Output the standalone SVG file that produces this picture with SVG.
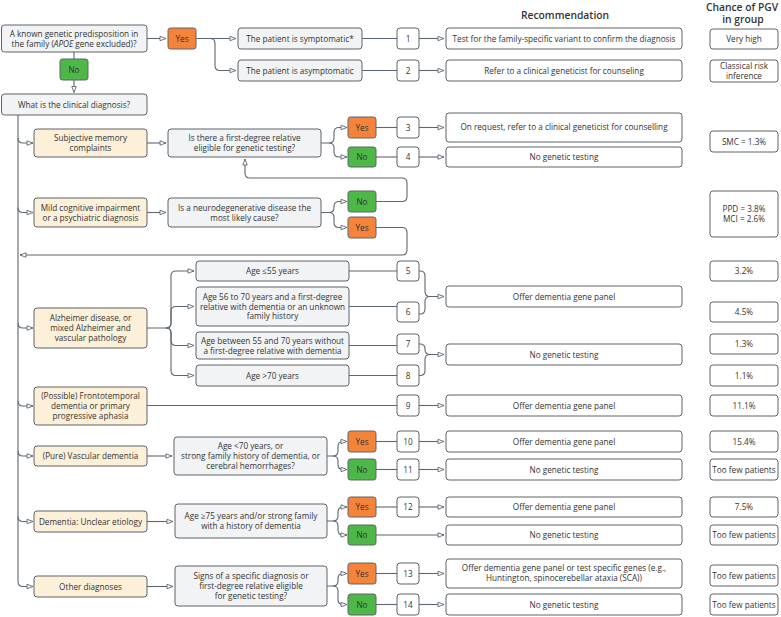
<svg xmlns="http://www.w3.org/2000/svg" width="781" height="617" viewBox="0 0 781 617">
<defs>
<style>
.b{stroke:#5f646b;stroke-width:1}
.q{fill:#f1f3f5}
.y{fill:#fdf0d9}
.w{fill:#fff}
.o{fill:#f5833a}
.g{fill:#4db848}
text{font-family:"Open Sans","DejaVu Sans",sans-serif;font-size:8.2px;fill:#333;text-anchor:middle}
.h{font-size:10.3px;font-weight:600;fill:#333}
.c{fill:none;stroke:#5d6771;stroke-width:1.1}
</style>
<marker id="a" markerWidth="8" markerHeight="6" refX="7" refY="3" orient="auto" markerUnits="userSpaceOnUse">
<path d="M1,0.8 L7,3 L1,5.2 Z" fill="#fff" stroke="#5d6771" stroke-width="0.9"/>
</marker>
</defs>
<rect width="781" height="617" fill="#fff"/>

<g id="headers">
<text class="h" x="565" y="18.5">Recommendation</text>
<text class="h" x="742" y="10.5">Chance of PGV</text>
<text class="h" x="743" y="23">in group</text>
</g>

<g id="connectors" class="c">
<path d="M147,38.5 H166" marker-end="url(#a)"/>
<path d="M196,38.5 H236" marker-end="url(#a)"/>
<path d="M210,38.5 Q215,38.5 215,43.5 V65.5 Q215,70.5 220,70.5 H236" marker-end="url(#a)"/>
<path d="M74,52 V59"/>
<path d="M74,80 V92.5" marker-end="url(#a)"/>
<path d="M362,38.5 H397"/>
<path d="M419,38.5 H444" marker-end="url(#a)"/>
<path d="M362,70.5 H397"/>
<path d="M419,70.5 H444" marker-end="url(#a)"/>

<path d="M18,115 V581.5 Q18,586.5 23,586.5 H33" marker-end="url(#a)"/>
<path d="M18,138 Q18,143 23,143 H33" marker-end="url(#a)"/>
<path d="M18,207.5 Q18,212.5 23,212.5 H33" marker-end="url(#a)"/>
<path d="M18,323 Q18,328 23,328 H33" marker-end="url(#a)"/>
<path d="M18,401 Q18,406 23,406 H33" marker-end="url(#a)"/>
<path d="M18,451 Q18,456 23,456 H33" marker-end="url(#a)"/>
<path d="M18,516.5 Q18,521.5 23,521.5 H33" marker-end="url(#a)"/>

<path d="M147,143 H166" marker-end="url(#a)"/>
<path d="M321,143 H329 Q334,143 334,138 V132.5 Q334,127.5 339,127.5 H347" marker-end="url(#a)"/>
<path d="M329,143 Q334,143 334,148 V152 Q334,157 339,157 H347" marker-end="url(#a)"/>
<path d="M376,127.5 H397"/>
<path d="M419,127.5 H444" marker-end="url(#a)"/>
<path d="M376,157 H397"/>
<path d="M419,157 H444" marker-end="url(#a)"/>

<path d="M147,212.5 H166" marker-end="url(#a)"/>
<path d="M321,212.5 H329 Q334,212.5 334,207.5 V206.5 Q334,201.5 339,201.5 H347" marker-end="url(#a)"/>
<path d="M329,212.5 Q334,212.5 334,217.5 V222.5 Q334,227.5 339,227.5 H347" marker-end="url(#a)"/>
<path d="M376,201.5 H402 Q407,201.5 407,196.5 V183 Q407,178 402,178 H250 Q245,178 245,173 V159" marker-end="url(#a)"/>
<path d="M376,227.5 H402 Q407,227.5 407,232.5 V250 Q407,255 402,255 H20" marker-end="url(#a)"/>

<path d="M147,328 H166 Q171,328 171,323 V276 Q171,271 176,271 H194" marker-end="url(#a)"/>
<path d="M166,328 Q171,328 171,323 V311.5 Q171,306.5 176,306.5 H194" marker-end="url(#a)"/>
<path d="M166,328 Q171,328 171,333 V340.5 Q171,345.5 176,345.5 H194" marker-end="url(#a)"/>
<path d="M166,328 Q171,328 171,333 V370.5 Q171,375.5 176,375.5 H194" marker-end="url(#a)"/>
<path d="M349,271 H397"/>
<path d="M349,306.5 H397"/>
<path d="M349,345.5 H397"/>
<path d="M349,375.5 H397"/>
<path d="M419,271 H420 Q425,271 425,276 V291.5 Q425,296.5 430,296.5 H444" marker-end="url(#a)"/>
<path d="M419,314 H420 Q425,314 425,309 V301.5 Q425,296.5 430,296.5"/>
<path d="M419,344 H420 Q425,344 425,349 V349.5 Q425,354.5 430,354.5 H444" marker-end="url(#a)"/>
<path d="M419,375.5 H420 Q425,375.5 425,370.5 V359.5 Q425,354.5 430,354.5"/>

<path d="M147,405.5 H397"/>
<path d="M419,405.5 H444" marker-end="url(#a)"/>

<path d="M147,456 H172" marker-end="url(#a)"/>
<path d="M327,456 H333 Q338,456 338,451 V446.5 Q338,441.5 343,441.5 H347" marker-end="url(#a)"/>
<path d="M333,456 Q338,456 338,461 V464.5 Q338,469.5 343,469.5 H347" marker-end="url(#a)"/>
<path d="M376,441.5 H397"/>
<path d="M419,441.5 H444" marker-end="url(#a)"/>
<path d="M376,469.5 H397"/>
<path d="M419,469.5 H444" marker-end="url(#a)"/>

<path d="M147,521.5 H173" marker-end="url(#a)"/>
<path d="M327,521 H333 Q338,521 338,516 V512 Q338,507 343,507 H347" marker-end="url(#a)"/>
<path d="M333,521 Q338,521 338,526 V530 Q338,535 343,535 H347" marker-end="url(#a)"/>
<path d="M376,507 H397"/>
<path d="M419,507 H444" marker-end="url(#a)"/>
<path d="M376,535 H444" marker-end="url(#a)"/>

<path d="M147,586.5 H173" marker-end="url(#a)"/>
<path d="M327,586 H333 Q338,586 338,581 V578.5 Q338,573.5 343,573.5 H347" marker-end="url(#a)"/>
<path d="M333,586 Q338,586 338,591 V599.5 Q338,604.5 343,604.5 H347" marker-end="url(#a)"/>
<path d="M376,573.5 H397"/>
<path d="M419,573.5 H444" marker-end="url(#a)"/>
<path d="M376,604.5 H397"/>
<path d="M419,604.5 H444" marker-end="url(#a)"/>
</g>

<g id="n-known"><rect class="b q" x="1.5" y="25" width="145.5" height="27" rx="3"/><text x="74" y="37">A known genetic predisposition in</text><text x="74" y="47">the family (<tspan font-style="italic">APOE</tspan> gene excluded)?</text></g>
<g id="n-yes0"><rect class="b o" x="168" y="28" width="28" height="21" rx="2.5"/><text x="182" y="41.5">Yes</text></g>
<g id="n-no0"><rect class="b g" x="60" y="59" width="28" height="21" rx="2.5"/><text x="74" y="72.5">No</text></g>
<g id="n-sympt"><rect class="b q" x="238" y="28" width="124" height="21" rx="3"/><text x="300" y="41.5">The patient is symptomatic*</text></g>
<g id="n-asympt"><rect class="b q" x="238" y="60" width="124" height="21" rx="3"/><text x="300" y="73.5">The patient is asymptomatic</text></g>
<g id="n-what"><rect class="b q" x="1.5" y="94" width="145.5" height="21" rx="3"/><text x="74" y="107.5">What is the clinical diagnosis?</text></g>

<g id="n-smc"><rect class="b y" x="34" y="129" width="113" height="28" rx="3"/><text x="90.5" y="141">Subjective memory</text><text x="90.5" y="151">complaints</text></g>
<g id="n-q1"><rect class="b q" x="168" y="129" width="153" height="28" rx="3"/><text x="244.5" y="141">Is there a first-degree relative</text><text x="244.5" y="151">eligible for genetic testing?</text></g>
<g id="n-yes1"><rect class="b o" x="348" y="117" width="28" height="21" rx="2.5"/><text x="362" y="130.5">Yes</text></g>
<g id="n-no1"><rect class="b g" x="348" y="147" width="28" height="20" rx="2.5"/><text x="362" y="160">No</text></g>

<g id="n-mci"><rect class="b y" x="34" y="198" width="113" height="29" rx="3"/><text x="90.5" y="210.5">Mild cognitive impairment</text><text x="90.5" y="220.5">or a psychiatric diagnosis</text></g>
<g id="n-q2"><rect class="b q" x="168" y="198" width="153" height="29" rx="3"/><text x="244.5" y="210.5">Is a neurodegenerative disease the</text><text x="244.5" y="220.5">most likely cause?</text></g>
<g id="n-no2"><rect class="b g" x="348" y="191" width="28" height="21" rx="2.5"/><text x="362" y="204.5">No</text></g>
<g id="n-yes2"><rect class="b o" x="348" y="217" width="28" height="21" rx="2.5"/><text x="362" y="230.5">Yes</text></g>

<g id="n-alz"><rect class="b y" x="34" y="308" width="113" height="40" rx="3"/><text x="90.5" y="321">Alzheimer disease, or</text><text x="90.5" y="331">mixed Alzheimer and</text><text x="90.5" y="341">vascular pathology</text></g>
<g id="n-age1"><rect class="b q" x="196" y="261" width="153" height="20" rx="3"/><text x="272.5" y="274">Age ≤55 years</text></g>
<g id="n-age2"><rect class="b q" x="196" y="287" width="153" height="39" rx="3"/><text x="272.5" y="300">Age 56 to 70 years and a first-degree</text><text x="272.5" y="309.5">relative with dementia or an unknown</text><text x="272.5" y="319">family history</text></g>
<g id="n-age3"><rect class="b q" x="196" y="332" width="153" height="27" rx="3"/><text x="272.5" y="343.5">Age between 55 and 70 years without</text><text x="272.5" y="353.5">a first-degree relative with dementia</text></g>
<g id="n-age4"><rect class="b q" x="196" y="365" width="153" height="21" rx="3"/><text x="272.5" y="378.5">Age &gt;70 years</text></g>

<g id="n-ftd"><rect class="b y" x="34" y="387" width="113" height="38" rx="3"/><text x="90.5" y="398.7">(Possible) Frontotemporal</text><text x="90.5" y="408.7">dementia or primary</text><text x="90.5" y="418.7">progressive aphasia</text></g>

<g id="n-vasc"><rect class="b y" x="34" y="446" width="113" height="20" rx="3"/><text x="90.5" y="459">(Pure) Vascular dementia</text></g>
<g id="n-q3"><rect class="b q" x="174" y="437" width="153" height="38" rx="3"/><text x="250.5" y="448.7">Age &lt;70 years, or</text><text x="250.5" y="458.7">strong family history of dementia, or</text><text x="250.5" y="468.7">cerebral hemorrhages?</text></g>
<g id="n-yes3"><rect class="b o" x="348" y="431" width="28" height="21" rx="2.5"/><text x="362" y="444.5">Yes</text></g>
<g id="n-no3"><rect class="b g" x="348" y="459" width="28" height="21" rx="2.5"/><text x="362" y="472.5">No</text></g>

<g id="n-dem"><rect class="b y" x="34" y="511" width="113" height="21" rx="3"/><text x="90.5" y="524.5">Dementia: Unclear etiology</text></g>
<g id="n-q4"><rect class="b q" x="175" y="504" width="152" height="34" rx="3"/><text x="251" y="518.7">Age ≥75 years and/or strong family</text><text x="251" y="528.7">with a history of dementia</text></g>
<g id="n-yes4"><rect class="b o" x="348" y="497" width="28" height="20" rx="2.5"/><text x="362" y="510">Yes</text></g>
<g id="n-no4"><rect class="b g" x="348" y="525" width="28" height="20" rx="2.5"/><text x="362" y="538">No</text></g>

<g id="n-other"><rect class="b y" x="34" y="576" width="113" height="21" rx="3"/><text x="90.5" y="589.5">Other diagnoses</text></g>
<g id="n-q5"><rect class="b q" x="175" y="566" width="152" height="40" rx="3"/><text x="251" y="578.7">Signs of a specific diagnosis or</text><text x="251" y="588.7">first-degree relative eligible</text><text x="251" y="598.7">for genetic testing?</text></g>
<g id="n-yes5"><rect class="b o" x="348" y="563" width="28" height="21" rx="2.5"/><text x="362" y="576.5">Yes</text></g>
<g id="n-no5"><rect class="b g" x="348" y="594" width="28" height="21" rx="2.5"/><text x="362" y="607.5">No</text></g>

<g id="n-num1"><rect class="b w" x="397" y="28" width="22" height="21" rx="3"/><text x="408" y="41.5">1</text></g>
<g id="n-num2"><rect class="b w" x="397" y="60" width="22" height="21" rx="3"/><text x="408" y="73.5">2</text></g>
<g id="n-num3"><rect class="b w" x="397" y="117" width="22" height="21" rx="3"/><text x="408" y="130.5">3</text></g>
<g id="n-num4"><rect class="b w" x="397" y="147" width="22" height="20" rx="3"/><text x="408" y="160">4</text></g>
<g id="n-num5"><rect class="b w" x="397" y="261" width="22" height="20" rx="3"/><text x="408" y="274">5</text></g>
<g id="n-num6"><rect class="b w" x="397" y="302" width="22" height="20" rx="3"/><text x="408" y="315">6</text></g>
<g id="n-num7"><rect class="b w" x="397" y="334" width="22" height="20" rx="3"/><text x="408" y="347">7</text></g>
<g id="n-num8"><rect class="b w" x="397" y="365" width="22" height="21" rx="3"/><text x="408" y="378.5">8</text></g>
<g id="n-num9"><rect class="b w" x="397" y="395" width="22" height="21" rx="3"/><text x="408" y="408.5">9</text></g>
<g id="n-num10"><rect class="b w" x="397" y="431" width="22" height="21" rx="3"/><text x="408" y="444.5">10</text></g>
<g id="n-num11"><rect class="b w" x="397" y="459" width="22" height="21" rx="3"/><text x="408" y="472.5">11</text></g>
<g id="n-num12"><rect class="b w" x="397" y="497" width="22" height="20" rx="3"/><text x="408" y="510">12</text></g>
<g id="n-num13"><rect class="b w" x="397" y="563" width="22" height="21" rx="3"/><text x="408" y="576.5">13</text></g>
<g id="n-num14"><rect class="b w" x="397" y="594" width="22" height="21" rx="3"/><text x="408" y="607.5">14</text></g>

<g id="n-rec1"><rect class="b w" x="446" y="28" width="236" height="21" rx="3"/><text x="564" y="41.5">Test for the family-specific variant to confirm the diagnosis</text></g>
<g id="n-rec2"><rect class="b w" x="446" y="60" width="236" height="21" rx="3"/><text x="564" y="73.5">Refer to a clinical geneticist for counseling</text></g>
<g id="n-rec3"><rect class="b w" x="446" y="113" width="236" height="29" rx="3"/><text x="564" y="130">On request, refer to a clinical geneticist for counselling</text></g>
<g id="n-rec4"><rect class="b w" x="446" y="147" width="236" height="20" rx="3"/><text x="564" y="160">No genetic testing</text></g>
<g id="n-rec56"><rect class="b w" x="446" y="286" width="236" height="21" rx="3"/><text x="564" y="299.5">Offer dementia gene panel</text></g>
<g id="n-rec78"><rect class="b w" x="446" y="344" width="236" height="21" rx="3"/><text x="564" y="357.5">No genetic testing</text></g>
<g id="n-rec9"><rect class="b w" x="446" y="395" width="236" height="21" rx="3"/><text x="564" y="408.5">Offer dementia gene panel</text></g>
<g id="n-rec10"><rect class="b w" x="446" y="431" width="236" height="21" rx="3"/><text x="564" y="444.5">Offer dementia gene panel</text></g>
<g id="n-rec11"><rect class="b w" x="446" y="459" width="236" height="21" rx="3"/><text x="564" y="472.5">No genetic testing</text></g>
<g id="n-rec12"><rect class="b w" x="446" y="497" width="236" height="20" rx="3"/><text x="564" y="510">Offer dementia gene panel</text></g>
<g id="n-rec12n"><rect class="b w" x="446" y="525" width="236" height="20" rx="3"/><text x="564" y="538">No genetic testing</text></g>
<g id="n-rec13"><rect class="b w" x="446" y="559" width="236" height="29" rx="3"/><text x="564" y="571">Offer dementia gene panel or test specific genes (e.g.,</text><text x="564" y="581">Huntington, spinocerebellar ataxia (SCA))</text></g>
<g id="n-rec14"><rect class="b w" x="446" y="594" width="236" height="21" rx="3"/><text x="564" y="607.5">No genetic testing</text></g>

<g id="n-p1"><rect class="b w" x="710" y="29" width="68" height="20" rx="3"/><text x="744" y="42">Very high</text></g>
<g id="n-p2"><rect class="b w" x="710" y="60" width="68" height="22" rx="3"/><text x="744" y="69">Classical risk</text><text x="744" y="79">inference</text></g>
<g id="n-p3"><rect class="b w" x="710" y="131" width="68" height="21" rx="3"/><text x="744" y="144.5">SMC = 1.3%</text></g>
<g id="n-p4"><rect class="b w" x="710" y="191" width="68" height="46" rx="3"/><text x="744" y="212">PPD = 3.8%</text><text x="744" y="222">MCI = 2.6%</text></g>
<g id="n-p5"><rect class="b w" x="710" y="261" width="68" height="20" rx="3"/><text x="744" y="274">3.2%</text></g>
<g id="n-p6"><rect class="b w" x="710" y="302" width="68" height="20" rx="3"/><text x="744" y="315">4.5%</text></g>
<g id="n-p7"><rect class="b w" x="710" y="334" width="68" height="20" rx="3"/><text x="744" y="347">1.3%</text></g>
<g id="n-p8"><rect class="b w" x="710" y="365" width="68" height="21" rx="3"/><text x="744" y="378.5">1.1%</text></g>
<g id="n-p9"><rect class="b w" x="710" y="395" width="68" height="21" rx="3"/><text x="744" y="408.5">11.1%</text></g>
<g id="n-p10"><rect class="b w" x="710" y="431" width="68" height="21" rx="3"/><text x="744" y="444.5">15.4%</text></g>
<g id="n-p11"><rect class="b w" x="710" y="459" width="68" height="21" rx="3"/><text x="744" y="472.5">Too few patients</text></g>
<g id="n-p12"><rect class="b w" x="710" y="497" width="68" height="20" rx="3"/><text x="744" y="510">7.5%</text></g>
<g id="n-p12n"><rect class="b w" x="710" y="525" width="68" height="20" rx="3"/><text x="744" y="538">Too few patients</text></g>
<g id="n-p13"><rect class="b w" x="710" y="565" width="68" height="21" rx="3"/><text x="744" y="578.5">Too few patients</text></g>
<g id="n-p14"><rect class="b w" x="710" y="594" width="68" height="21" rx="3"/><text x="744" y="607.5">Too few patients</text></g>
</svg>
